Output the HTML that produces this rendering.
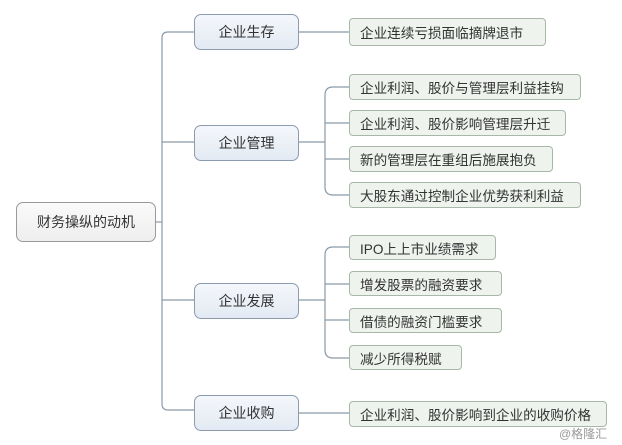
<!DOCTYPE html>
<html><head><meta charset="utf-8"><style>
body{margin:0;width:622px;height:445px;background:#fff;overflow:hidden;position:relative;font-family:"Liberation Sans","Noto Sans CJK SC",sans-serif}
.b{position:absolute;box-sizing:border-box;display:flex;align-items:center;color:#333}
.r{border:1px solid #9a9a9a;border-radius:7px;background:linear-gradient(#fafafa,#eeeeee);justify-content:center;font-size:14px}
.m{border:1px solid #8c9bb0;border-radius:7px;background:linear-gradient(#f4f7fb,#e3eaf3);justify-content:center;font-size:14px}
.c{border:1px solid #a8b8a8;border-radius:4px;background:#eef3ee;padding-left:10px;font-size:13.6px;white-space:nowrap}
svg{position:absolute;left:0;top:0}
</style></head><body>
<svg width="622" height="445" fill="none" stroke="#8a9aa8" stroke-width="1.2">
<path d="M155 222H162"/>
<path d="M194 32H168Q162 32 162 38V404Q162 410 168 410H194"/>
<path d="M162 142H194M162 300H194"/>
<path d="M298 32H349"/>
<path d="M298 142H325M298 300H325M298 413H349" />
<path d="M349 87H333Q325 87 325 95V187Q325 195 333 195H349M325 123H349M325 159H349"/>
<path d="M349 247H333Q325 247 325 255V350Q325 358 333 358H349M325 284H349M325 320H349"/>
</svg>
<div class="b r" style="left:16px;top:202px;width:140px;height:40px">财务操纵的动机</div>
<div class="b m" style="left:194px;top:14px;width:105px;height:36px">企业生存</div>
<div class="b m" style="left:194px;top:125px;width:105px;height:36px">企业管理</div>
<div class="b m" style="left:194px;top:283px;width:105px;height:36px">企业发展</div>
<div class="b m" style="left:194px;top:395px;width:105px;height:36px">企业收购</div>
<div class="b c" style="left:349px;top:18px;width:197px;height:28px">企业连续亏损面临摘牌退市</div>
<div class="b c" style="left:349px;top:74px;width:232px;height:26px">企业利润、股价与管理层利益挂钩</div>
<div class="b c" style="left:349px;top:110px;width:217px;height:26px">企业利润、股价影响管理层升迁</div>
<div class="b c" style="left:349px;top:146px;width:204px;height:26px">新的管理层在重组后施展抱负</div>
<div class="b c" style="left:349px;top:182px;width:232px;height:26px">大股东通过控制企业优势获利利益</div>
<div class="b c" style="left:349px;top:235px;width:147px;height:25px">IPO上上市业绩需求</div>
<div class="b c" style="left:349px;top:271px;width:153px;height:25px">增发股票的融资要求</div>
<div class="b c" style="left:349px;top:308px;width:153px;height:25px">借债的融资门槛要求</div>
<div class="b c" style="left:349px;top:345px;width:113px;height:25px">减少所得税赋</div>
<div class="b c" style="left:349px;top:401px;width:258px;height:26px">企业利润、股价影响到企业的收购价格</div>
<div style="position:absolute;left:559px;top:425px;font-size:12px;color:#999">@格隆汇</div>
</body></html>
